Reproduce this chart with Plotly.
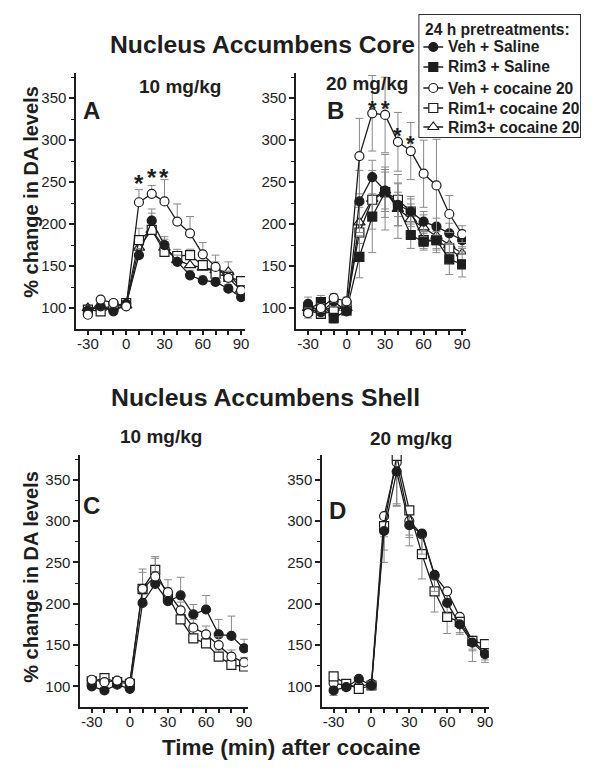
import plotly.graph_objects as go

# page body has an 8px margin: figure is drawn 8px in from the window edges
OFF = 8
W, H = 593 - 2 * OFF, 769 - 2 * OFF

# ---------------- data ----------------
time = [-30, -20, -10, 0, 10, 20, 30, 40, 50, 60, 70, 80, 90]
x_tickvals = [-30, -20, -10, 0, 10, 20, 30, 40, 50, 60, 70, 80, 90]
x_ticktext = ["-30", "", "", "0", "", "", "30", "", "", "60", "", "", "90"]
y_tickvals = [100, 150, 200, 250, 300, 350]
y_minorvals = [125, 175, 225, 275, 325, 375]

legend_title = "24 h pretreatments:"
series_names = ["Veh + Saline", "Rim3 + Saline", "Veh + cocaine 20",
                "Rim1+ cocaine 20", "Rim3+ cocaine 20"]

# Panel A: Core, 10 mg/kg (error bars up)
a_veh_sal = [97, 102, 96, 105, 163, 204, 175, 155, 139, 133, 131, 123, 113]
a_veh_coc = [92, 110, 106, 102, 226, 236, 227, 203, 189, 164, 149, 136, 121]
a_rim1_coc = [98, 96, 102, 106, 181, 193, 167, 162, 163, 151, 141, 137, 132]
a_rim3_coc = [100, 100, 102, 103, 172, 193, 172, 157, 151, 148, 145, 143, 122]
a_veh_sal_err = [3, 4, 3, 4, 8, 14, 10, 8, 6, 5, 5, 5, 4]
a_veh_coc_err = [3, 3, 3, 3, 15, 10, 26, 21, 20, 14, 14, 8, 5]
a_rim1_coc_err = [3, 3, 3, 3, 14, 20, 12, 8, 7, 6, 6, 6, 5]
a_rim3_coc_err = [3, 3, 3, 3, 10, 12, 10, 8, 8, 8, 10, 12, 6]

# Panel B: Core, 20 mg/kg (error bars both ways)
b_veh_sal = [105, 95, 108, 96, 227, 256, 240, 223, 215, 203, 197, 189, 181]
b_rim3_sal = [98, 107, 88, 97, 161, 209, 238, 221, 187, 179, 181, 158, 152]
b_veh_coc = [94, 100, 112, 108, 281, 332, 330, 298, 287, 260, 246, 212, 188]
b_rim1_coc = [97, 93, 96, 103, 190, 229, 238, 229, 215, 181, 181, 171, 159]
b_rim3_coc = [100, 98, 100, 100, 202, 230, 240, 218, 206, 196, 186, 175, 165]
b_veh_sal_err = [8, 6, 6, 5, 37, 20, 22, 25, 18, 12, 10, 12, 8]
b_rim3_sal_err = [6, 8, 6, 5, 25, 43, 45, 38, 16, 10, 15, 18, 15]
b_veh_coc_err = [6, 5, 5, 5, 45, 45, 45, 35, 34, 40, 55, 22, 10]
b_rim1_coc_err = [5, 5, 5, 5, 30, 35, 30, 20, 15, 10, 12, 15, 12]
b_rim3_coc_err = [5, 5, 5, 5, 25, 25, 25, 20, 18, 15, 15, 15, 12]

# Panel C: Shell, 10 mg/kg (error bars up)
c_veh_sal = [100, 95, 102, 97, 201, 224, 203, 210, 187, 193, 163, 161, 146]
c_veh_coc = [108, 105, 107, 105, 218, 233, 214, 192, 171, 163, 150, 136, 129]
c_rim1_coc = [106, 110, 105, 103, 218, 241, 209, 181, 158, 152, 136, 126, 124]
c_veh_sal_err = [3, 3, 3, 3, 10, 15, 10, 22, 12, 17, 18, 24, 11]
c_veh_coc_err = [3, 3, 3, 3, 20, 22, 15, 10, 10, 10, 10, 8, 6]
c_rim1_coc_err = [3, 3, 3, 3, 24, 16, 10, 10, 10, 10, 8, 8, 6]

# Panel D: Shell, 20 mg/kg (error bars down)
d_veh_sal = [95, 99, 109, 101, 288, 360, 295, 285, 235, 201, 175, 153, 139]
d_veh_coc = [104, 101, 100, 103, 306, 371, 300, 284, 234, 215, 184, 155, 142]
d_rim1_coc = [112, 103, 97, 101, 294, 379, 313, 260, 215, 184, 178, 155, 151]
d_veh_sal_err = [6, 4, 4, 4, 38, 42, 25, 25, 20, 13, 10, 10, 10]
d_veh_coc_err = [4, 4, 4, 4, 25, 50, 20, 20, 15, 12, 10, 10, 10]
d_rim1_coc_err = [4, 4, 4, 4, 29, 60, 30, 30, 25, 20, 15, 25, 16]

# significance stars
stars_a_t = [10, 20, 30]
stars_a_y = [248, 256, 256]
stars_b_t = [20, 30, 40, 50]
stars_b_y = [338, 338, 306, 296]

# ---------------- style ----------------
FONT = "Liberation Sans, Arial, sans-serif"
INK = "#1e1e1e"
ERR = "#8a8a8a"

styles = {
    "Veh + Saline": dict(symbol="circle", color=INK),
    "Rim3 + Saline": dict(symbol="square", color=INK),
    "Veh + cocaine 20": dict(symbol="circle", color="white"),
    "Rim1+ cocaine 20": dict(symbol="square", color="white"),
    "Rim3+ cocaine 20": dict(symbol="triangle-up", color="white"),
}


def px(x):
    return (x - OFF) / W


def py(y):
    return 1 - (y - OFF) / H


def marker_of(name):
    st = styles[name]
    return dict(symbol=st["symbol"], size=10 if st["symbol"] == "triangle-up" else 9,
                color=st["color"], line=dict(color=INK, width=1.2))


fig = go.Figure()


def add(name, ys, err, mode, ax):
    if mode == "up":
        ey = dict(type="data", symmetric=False, array=err, arrayminus=[0] * len(err))
    elif mode == "down":
        ey = dict(type="data", symmetric=False, array=[0] * len(err), arrayminus=err)
    else:
        ey = dict(type="data", array=err)
    ey.update(color=ERR, thickness=1, width=4)
    fig.add_trace(go.Scatter(
        x=time, y=ys, name=name, showlegend=False,
        mode="lines+markers", xaxis="x" + ax, yaxis="y" + ax,
        line=dict(color=INK, width=1.3), marker=marker_of(name), error_y=ey,
    ))


# A
add("Rim3+ cocaine 20", a_rim3_coc, a_rim3_coc_err, "up", "")
add("Rim1+ cocaine 20", a_rim1_coc, a_rim1_coc_err, "up", "")
add("Veh + Saline", a_veh_sal, a_veh_sal_err, "up", "")
add("Veh + cocaine 20", a_veh_coc, a_veh_coc_err, "up", "")
# B
add("Rim3+ cocaine 20", b_rim3_coc, b_rim3_coc_err, "both", "2")
add("Rim1+ cocaine 20", b_rim1_coc, b_rim1_coc_err, "both", "2")
add("Rim3 + Saline", b_rim3_sal, b_rim3_sal_err, "both", "2")
add("Veh + Saline", b_veh_sal, b_veh_sal_err, "both", "2")
add("Veh + cocaine 20", b_veh_coc, b_veh_coc_err, "both", "2")
# C
add("Rim1+ cocaine 20", c_rim1_coc, c_rim1_coc_err, "up", "3")
add("Veh + Saline", c_veh_sal, c_veh_sal_err, "up", "3")
add("Veh + cocaine 20", c_veh_coc, c_veh_coc_err, "up", "3")
# D
add("Veh + cocaine 20", d_veh_coc, d_veh_coc_err, "down", "4")
add("Rim1+ cocaine 20", d_rim1_coc, d_rim1_coc_err, "down", "4")
add("Veh + Saline", d_veh_sal, d_veh_sal_err, "down", "4")

# ---------------- axes ----------------
xr = [-39, 93]
yr = [75, 380]
dom = {
    "": ([77, 247], [73, 329]),
    "2": ([299, 470], [73, 329]),
    "3": ([81, 250], [455, 707]),
    "4": ([325, 493], [455, 707]),
}
layout_axes = {}
for k, (xd, yd) in dom.items():
    layout_axes["xaxis" + k] = dict(
        domain=[px(xd[0]), px(xd[1])], range=xr, anchor="y" + k,
        tickvals=x_tickvals, ticktext=x_ticktext, ticks="outside", ticklen=4,
        tickwidth=1.5, tickcolor=INK, showline=True, linecolor=INK, linewidth=2,
        showgrid=False, zeroline=False, ticklabelstandoff=-4,
        tickfont=dict(family=FONT, size=15, color=INK),
    )
    layout_axes["yaxis" + k] = dict(
        domain=[py(yd[1]), py(yd[0])], range=yr, anchor="x" + k,
        tickvals=y_tickvals, ticks="outside", ticklen=5, tickwidth=1.5,
        tickcolor=INK, showline=True, linecolor=INK, linewidth=2,
        showgrid=False, zeroline=False,
        minor=dict(tickvals=y_minorvals, ticks="outside",
                   ticklen=3, tickwidth=1.2, tickcolor=INK, showgrid=False),
        tickfont=dict(family=FONT, size=15, color=INK),
    )

# legend drawn on its own hidden axis (units = pixels inside the legend box)
LEG_X0, LEG_X1, LEG_Y0, LEG_Y1 = 423, 585, 15, 137
legend_rows = [32, 52, 73, 93, 112]
layout_axes["xaxis5"] = dict(domain=[px(LEG_X0), px(LEG_X1)], range=[0, LEG_X1 - LEG_X0],
                             anchor="y5", visible=False, fixedrange=True)
layout_axes["yaxis5"] = dict(domain=[py(LEG_Y1), py(LEG_Y0)], range=[LEG_Y1 - LEG_Y0, 0],
                             anchor="x5", visible=False, fixedrange=True)
fig.update_layout(**layout_axes)

for name, row in zip(series_names, legend_rows):
    fig.add_trace(go.Scatter(x=[4, 24], y=[row, row], mode="lines", showlegend=False,
                             xaxis="x5", yaxis="y5", hoverinfo="skip",
                             line=dict(color=INK, width=1.3)))
    fig.add_trace(go.Scatter(x=[14], y=[row], mode="markers", showlegend=False,
                             xaxis="x5", yaxis="y5", hoverinfo="skip",
                             marker=marker_of(name)))

# ---------------- annotations ----------------
ann = []


def txt(t, x, y, size, angle=0):
    ann.append(dict(text=t, x=px(x), y=py(y), xref="paper", yref="paper",
                    showarrow=False, textangle=angle, xanchor="center",
                    yanchor="middle",
                    font=dict(family=FONT, size=size, color=INK, weight="bold")))


txt("Nucleus Accumbens Core", 265, 45, 24.7)
txt("Nucleus Accumbens Shell", 268, 397, 24.8)
txt("10 mg/kg", 182, 86, 19)
txt("20 mg/kg", 370, 83, 19)
txt("10 mg/kg", 162, 436, 19)
txt("20 mg/kg", 415, 438, 19)
txt("A", 92, 110, 24)
txt("B", 338, 110, 24)
txt("C", 92, 505, 24)
txt("D", 340, 510, 24)
txt("% change in DA levels", 31, 192, 20, -90)
txt("% change in DA levels", 31, 577, 20, -90)
txt("Time (min) after cocaine", 293, 747, 22.5)

for t, y in zip(stars_a_t, stars_a_y):
    ann.append(dict(text="*", x=t, y=y, xref="x", yref="y", showarrow=False,
                    yanchor="middle", font=dict(family=FONT, size=24, color=INK, weight="bold")))
for t, y in zip(stars_b_t, stars_b_y):
    ann.append(dict(text="*", x=t, y=y, xref="x2", yref="y2", showarrow=False,
                    yanchor="middle", font=dict(family=FONT, size=22, color=INK, weight="bold")))

# legend texts
ann.append(dict(text=legend_title, x=4, y=15, xref="x5", yref="y5", showarrow=False,
                xanchor="left", yanchor="middle",
                font=dict(family=FONT, size=15.6, color=INK, weight="bold")))
for name, row in zip(series_names, legend_rows):
    ann.append(dict(text=name, x=27, y=row, xref="x5", yref="y5", showarrow=False,
                    xanchor="left", yanchor="middle",
                    font=dict(family=FONT, size=15.6, color=INK, weight="bold")))

fig.update_layout(
    width=W, height=H, margin=dict(l=0, r=0, t=0, b=0),
    paper_bgcolor="white", plot_bgcolor="white",
    annotations=ann, showlegend=False,
    shapes=[dict(type="rect", xref="paper", yref="paper",
                 x0=px(LEG_X0), x1=px(LEG_X1), y0=py(LEG_Y1), y1=py(LEG_Y0),
                 line=dict(color="#333", width=2), fillcolor="white", layer="below")],
)

fig.write_html("out.html")
